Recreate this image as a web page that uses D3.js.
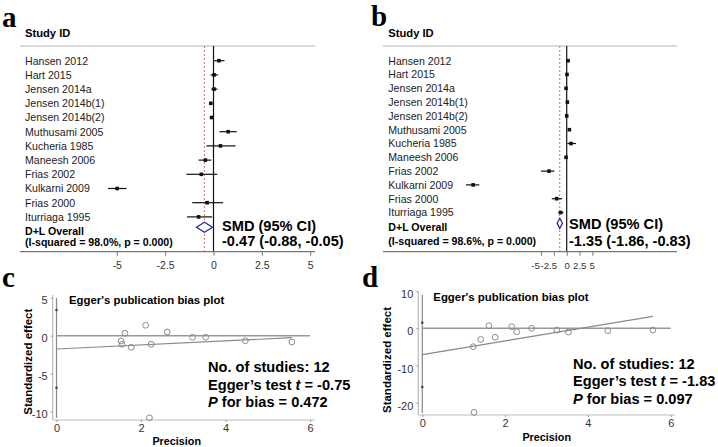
<!DOCTYPE html>
<html>
<head>
<meta charset="utf-8">
<script src="https://cdn.jsdelivr.net/npm/d3@7"></script>
<style>
  body { margin: 0; background: #fff; }
  svg { display: block; font-family: "Liberation Sans", Arial, sans-serif; }
</style>
</head>
<body>
<svg id="fig" width="718" height="447"></svg>
<script>
// study list shared by both forest plots
const studies = ["Hansen 2012", "Hart 2015", "Jensen 2014a", "Jensen 2014b(1)", "Jensen 2014b(2)",
  "Muthusami 2005", "Kucheria 1985", "Maneesh 2006", "Frias 2002", "Kulkarni 2009", "Frias 2000", "Iturriaga 1995"];

// panel a: SMD and 95% CI per study
const smdA = [0.28, 0.03, 0.03, -0.14, -0.10, 0.76, 0.36, -0.42, -0.63, -4.98, -0.33, -0.77];
const lowA = [0.00, -0.15, -0.12, -0.20, -0.18, 0.31, -0.37, -0.77, -1.40, -5.45, -1.10, -1.37];
const highA = [0.57, 0.23, 0.20, -0.08, -0.02, 1.20, 1.14, -0.12, 0.19, -4.50, 0.50, -0.07];
const overallA = [-0.47, -0.88, -0.05];
const isqA = "98.0%";

// panel b
const smdB = [0.26, 0.06, -0.13, 0.13, 0.00, 0.52, 0.84, -0.13, -3.44, -18.2, -1.95, -1.17];
const lowB = [0.05, -0.10, -0.30, 0.00, -0.12, 0.25, 0.13, -0.30, -5.00, -19.6, -2.90, -1.70];
const highB = [0.50, 0.20, 0.05, 0.26, 0.12, 0.80, 1.80, 0.05, -2.40, -17.0, -0.90, -0.65];
const overallB = [-1.35, -1.86, -0.83];
const isqB = "98.6%";

const forestTicks = [-5, -2.5, 0, 2.5, 5];

// panel c: Egger plot (precision, standardized effect)
const precC = [1.53, 1.55, 1.62, 1.77, 2.11, 2.24, 2.20, 2.62, 3.22, 3.53, 4.47, 5.57];
const effC = [-0.70, -1.13, 0.32, -1.53, 1.37, -1.13, -10.8, 0.49, -0.21, -0.21, -0.66, -0.83];
const eggerC = [-1.75, 0.268];      // intercept, slope
const eggerCiC = [-6.84, 3.38];
const statsC = ["12", "-0.75", "0.472"];

// panel d
const precD = [1.23, 1.25, 1.41, 1.61, 1.76, 2.16, 2.28, 2.64, 3.25, 3.53, 4.48, 5.57];
const effD = [-4.95, -22.6, -3.0, 0.70, -2.42, 0.43, -0.91, 0.00, -0.46, -1.00, -0.65, -0.46];
const eggerD = [-7.1, 1.85];
const eggerCiD = [-15.8, 1.5];
const statsD = ["12", "-1.83", "0.097"];

const precTicks = [0, 2, 4, 6];
const effTicksC = [5, 0, -5, -10];
const effTicksD = [10, 0, -10, -20];

const svg = d3.select("#fig");
const plain = d => String(d);   // keep ASCII hyphen for negatives

// panel letters
const letters = [["a", 2, 27], ["b", 371, 26], ["c", 2, 287], ["d", 362, 287]];
svg.selectAll("text.letter").data(letters).join("text")
  .attr("class", "letter")
  .attr("x", d => d[1]).attr("y", d => d[2])
  .style("font-family", "'Liberation Serif', 'Times New Roman', serif")
  .style("font-weight", "bold").style("font-size", "29px")
  .text(d => d[0]);

function forest(cfg) {
  const g = svg.append("g");
  const x = d3.scaleLinear().domain([-5, 5]).range(cfg.range);
  const y = i => cfg.rowTop + i * cfg.rowStep;
  const headY = 46, axisY = 251.7;

  g.append("text").attr("x", cfg.labelX).attr("y", 37)
    .style("font-weight", "bold").style("font-size", "11.2px").text("Study ID");
  g.append("line").attr("x1", cfg.x0).attr("x2", cfg.x1).attr("y1", headY).attr("y2", headY)
    .attr("stroke", "#b5b5b5").attr("stroke-width", 1.2);

  // null line and overall dashed line
  g.append("line").attr("x1", x(0)).attr("x2", x(0)).attr("y1", headY).attr("y2", axisY)
    .attr("stroke", "#111").attr("stroke-width", 1.2);
  g.append("line").attr("x1", x(cfg.overall[0])).attr("x2", x(cfg.overall[0]))
    .attr("y1", headY).attr("y2", axisY)
    .attr("stroke", "#c8707a").attr("stroke-width", 1).attr("stroke-dasharray", "2,2");

  g.selectAll("text.study").data(studies).join("text")
    .attr("class", "study")
    .attr("x", cfg.labelX).attr("y", (d, i) => y(i)).attr("dy", "0.36em")
    .style("font-size", "10.6px").attr("fill", "#222").text(d => d);

  g.selectAll("line.ci").data(cfg.est).join("line")
    .attr("class", "ci")
    .attr("x1", (d, i) => x(cfg.lo[i])).attr("x2", (d, i) => x(cfg.hi[i]))
    .attr("y1", (d, i) => y(i)).attr("y2", (d, i) => y(i))
    .attr("stroke", "#111").attr("stroke-width", 1.2);
  g.selectAll("rect.pt").data(cfg.est).join("rect")
    .attr("class", "pt")
    .attr("x", d => x(d) - 1.8).attr("y", (d, i) => y(i) - 1.8)
    .attr("width", 3.6).attr("height", 3.6).attr("fill", "#111");

  // overall diamond
  const [m, lo, hi] = cfg.overall;
  const dy = cfg.diamondY;
  g.append("path")
    .attr("d", `M${x(lo)},${dy} L${x(m)},${dy - 5} L${x(hi)},${dy} L${x(m)},${dy + 5} Z`)
    .attr("fill", "#fff").attr("stroke", "#2a2a8a").attr("stroke-width", 1.3);

  g.append("text").attr("x", cfg.labelX).attr("y", cfg.overallY).attr("dy", "0.36em")
    .style("font-weight", "bold").style("font-size", "10.6px").text("D+L Overall");
  g.append("text").attr("x", cfg.labelX).attr("y", cfg.isqY).attr("dy", "0.36em")
    .style("font-weight", "bold").style("font-size", "10.6px")
    .text(`(I-squared = ${cfg.isq}, p = 0.000)`);

  g.append("text").attr("x", cfg.smdX).attr("y", cfg.smdY[0]).attr("dy", "0.36em")
    .style("font-weight", "bold").style("font-size", "14.6px").text("SMD (95% CI)");
  g.append("text").attr("x", cfg.smdX).attr("y", cfg.smdY[1]).attr("dy", "0.36em")
    .style("font-weight", "bold").style("font-size", "14.6px")
    .text(`${m.toFixed(2)} (${lo.toFixed(2)}, ${hi.toFixed(2)})`);

  // bottom axis
  g.append("line").attr("x1", cfg.x0).attr("x2", cfg.x1).attr("y1", axisY).attr("y2", axisY)
    .attr("stroke", "#777").attr("stroke-width", 1.2);
  const ax = g.append("g").attr("transform", `translate(0,${axisY})`)
    .call(d3.axisBottom(x).tickValues(forestTicks).tickSize(4).tickPadding(6).tickFormat(plain));
  ax.select(".domain").remove();
  ax.selectAll(".tick line").attr("stroke", "#777");
  ax.selectAll(".tick text").style("font-family", "'Liberation Sans', Arial, sans-serif")
    .attr("dx", (d, i) => cfg.tickShift[i])
    .style("font-size", cfg.tickFont).attr("fill", "#333");
}

forest({
  x0: 20, x1: 315, range: [116.8, 310.2], labelX: 25,
  rowTop: 60.7, rowStep: 14.2, overallY: 230.7, isqY: 241.7, diamondY: 227.3,
  smdX: 222, smdY: [226, 240.5], tickShift: [0, 0, 0, 0, 0], tickFont: "10.5px",
  est: smdA, lo: lowA, hi: highA, overall: overallA, isq: isqA
});
forest({
  x0: 383, x1: 677, range: [541, 592.4], labelX: 388.3,
  rowTop: 60.7, rowStep: 13.8, overallY: 227.3, isqY: 240.7, diamondY: 223.3,
  smdX: 569, smdY: [223.3, 240.7], tickShift: [-6, -5.5, 0, -0.3, -0.8], tickFont: "9.6px",
  est: smdB, lo: lowB, hi: highB, overall: overallB, isq: isqB
});

function egger(cfg) {
  const g = svg.append("g");
  const x = d3.scaleLinear().domain([0, 6]).range(cfg.xRange);
  const y = d3.scaleLinear().domain([0, 1]).range([cfg.zeroY, cfg.zeroY - cfg.pxPerUnit]);

  // axes
  g.append("line").attr("x1", cfg.axisX).attr("x2", cfg.axisX).attr("y1", cfg.top).attr("y2", cfg.bottom)
    .attr("stroke", "#bbb").attr("stroke-width", 1.2);
  g.append("line").attr("x1", cfg.axisX).attr("x2", cfg.right).attr("y1", cfg.bottom).attr("y2", cfg.bottom)
    .attr("stroke", "#bbb").attr("stroke-width", 1.2);

  const yax = g.append("g").attr("transform", `translate(${cfg.axisX},0)`)
    .call(d3.axisLeft(y).tickValues(cfg.yTicks).tickSize(2).tickPadding(3).tickFormat(plain));
  yax.select(".domain").remove();
  yax.selectAll(".tick line").attr("stroke", "#999");
  yax.selectAll(".tick text").attr("dy", cfg.labelDy + "em")
    .style("font-family", "'Liberation Sans', Arial, sans-serif").style("font-size", "11px").attr("fill", "#333");

  const xax = g.append("g").attr("transform", `translate(0,${cfg.bottom})`)
    .call(d3.axisBottom(x).tickValues(precTicks).tickSize(2).tickPadding(2).tickFormat(plain));
  xax.select(".domain").remove();
  xax.selectAll(".tick line").attr("stroke", "#999");
  xax.selectAll(".tick text")
    .style("font-family", "'Liberation Sans', Arial, sans-serif").style("font-size", "11px").attr("fill", "#333");

  // vertical line at precision 0 with intercept CI markers
  g.append("line").attr("x1", x(0)).attr("x2", x(0)).attr("y1", cfg.top + 3).attr("y2", cfg.bottom - 2)
    .attr("stroke", "#888").attr("stroke-width", 1.2);
  g.selectAll("circle.ci").data(cfg.ci).join("circle")
    .attr("class", "ci").attr("cx", x(0)).attr("cy", d => y(d)).attr("r", 1.3).attr("fill", "#444");

  // zero line
  g.append("line").attr("x1", x(0)).attr("x2", x(6)).attr("y1", y(0)).attr("y2", y(0))
    .attr("stroke", "#999").attr("stroke-width", 1.4);

  // regression line
  const xmax = d3.max(cfg.prec);
  g.append("line")
    .attr("x1", x(0)).attr("y1", y(cfg.fit[0]))
    .attr("x2", x(xmax)).attr("y2", y(cfg.fit[0] + cfg.fit[1] * xmax))
    .attr("stroke", "#888").attr("stroke-width", 1.2);

  g.selectAll("circle.pt").data(cfg.prec).join("circle")
    .attr("class", "pt")
    .attr("cx", d => x(d)).attr("cy", (d, i) => y(cfg.eff[i]))
    .attr("r", 2.9).attr("fill", "none").attr("stroke", "#8a8a8a").attr("stroke-width", 1);

  g.append("text").attr("x", cfg.titleX).attr("y", cfg.titleY).attr("dy", "0.36em")
    .style("font-weight", "bold").style("font-size", "11.4px").text("Egger's publication bias plot");
  g.append("text")
    .attr("transform", `translate(${cfg.ylabX},${cfg.ylabY}) rotate(-90)`)
    .attr("text-anchor", "middle").attr("dy", "0.36em")
    .style("font-weight", "bold").style("font-size", "11.5px").text("Standardized effect");
  g.append("text").attr("x", cfg.xlabX).attr("y", cfg.xlabY).attr("dy", "0.36em")
    .attr("text-anchor", "middle")
    .style("font-weight", "bold").style("font-size", "10.8px").text("Precision");

  const st = g.append("g").style("font-weight", "bold").style("font-size", "14.6px");
  st.append("text").attr("x", cfg.statX).attr("y", cfg.statY[0]).attr("dy", "0.36em")
    .text(`No. of studies: ${cfg.stats[0]}`);
  const t2 = st.append("text").attr("x", cfg.statX).attr("y", cfg.statY[1]).attr("dy", "0.36em");
  t2.append("tspan").text("Egger\u2019s test ");
  t2.append("tspan").style("font-style", "italic").text("t");
  t2.append("tspan").text(` = ${cfg.stats[1]}`);
  const t3 = st.append("text").attr("x", cfg.statX).attr("y", cfg.statY[2]).attr("dy", "0.36em");
  t3.append("tspan").style("font-style", "italic").text("P");
  t3.append("tspan").text(` for bias = ${cfg.stats[2]}`);
}

egger({
  xRange: [56.5, 310], zeroY: 335.7, pxPerUnit: 7.6, axisX: 52.7, top: 295, bottom: 420, right: 315,
  yTicks: effTicksC, labelDy: 0.55, ci: eggerCiC, fit: eggerC, prec: precC, eff: effC,
  titleX: 69, titleY: 300, ylabX: 28, ylabY: 361.7, xlabX: 176.7, xlabY: 441,
  statX: 208, statY: [366.7, 384.3, 401.7], stats: statsC
});
egger({
  xRange: [422.3, 670.7], zeroY: 328.3, pxPerUnit: 3.72, axisX: 418.3, top: 291.7, bottom: 415, right: 675,
  yTicks: effTicksD, labelDy: 0.6, ci: eggerCiD, fit: eggerD, prec: precD, eff: effD,
  titleX: 433.3, titleY: 296.7, ylabX: 386.7, ylabY: 360, xlabX: 546.7, xlabY: 436.7,
  statX: 573, statY: [363.3, 380.5, 398.3], stats: statsD
});
</script>
</body>
</html>
